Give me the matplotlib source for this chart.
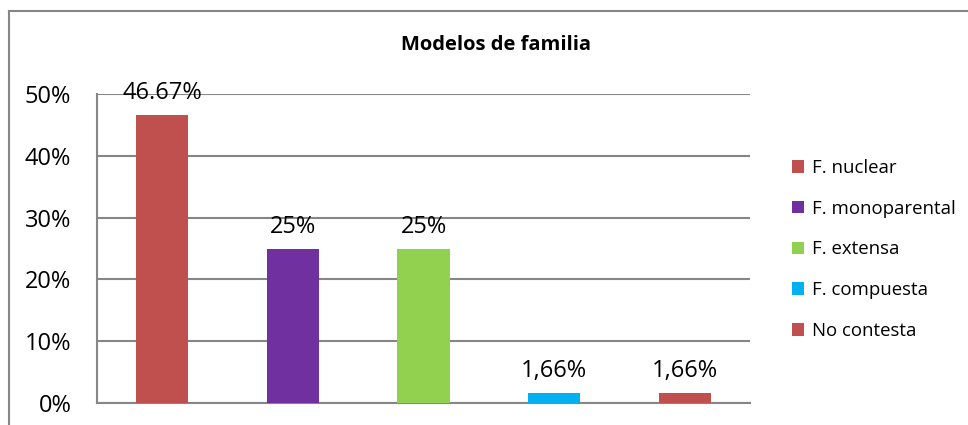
import matplotlib
matplotlib.use("Agg")
import matplotlib.pyplot as plt
from matplotlib.patches import Patch
from matplotlib.lines import Line2D
from matplotlib.ticker import FuncFormatter

categories = ["F. nuclear", "F. monoparental", "F. extensa", "F. compuesta", "No contesta"]
values = [0.4667, 0.25, 0.25, 0.0166, 0.0166]
value_labels = ["46.67%", "25%", "25%", "1,66%", "1,66%"]
colors = ["#C0504D", "#7030A0", "#92D050", "#00B0F0", "#C0504D"]
yticks = [0, 0.1, 0.2, 0.3, 0.4, 0.5]

plt.rcParams['font.family'] = ['Open Sans', 'DejaVu Sans']

W, H = 968, 425
fig = plt.figure(figsize=(W / 100, H / 100), dpi=100)
ax = fig.add_axes([97 / W, 1 - 403 / H, (750 - 97) / W, (403 - 94) / H])

grid_c = "#868686"
x = list(range(len(categories)))
ax.bar(x, values, width=0.4, color=colors, zorder=3)
ax.set_xlim(-0.5, len(categories) - 0.5)
ax.set_ylim(0, 0.5)
ax.set_yticks(yticks)
ax.yaxis.set_major_formatter(FuncFormatter(lambda v, p: f"{v*100:.0f}%"))
ax.set_xticks([])
ax.tick_params(axis='y', length=0, pad=18.5, labelsize=17)
ax.grid(axis='y', color=grid_c, linewidth=1.5, zorder=0)
for s in ["top", "right"]:
    ax.spines[s].set_visible(False)
for s in ["left", "bottom"]:
    ax.spines[s].set_color(grid_c)
    ax.spines[s].set_linewidth(1.5)

for xi, v, lab in zip(x, values, value_labels):
    ax.annotate(lab, (xi, v), xytext=(0, 11), textcoords="offset points",
                ha="center", va="baseline", fontsize=17, color="black", zorder=4)

fig.text(496 / W, 1 - 45 / H, "Modelos de familia", ha="center", va="center",
         fontsize=14.5, fontweight="bold")

handles = [Patch(facecolor=c, edgecolor="none") for c in colors]
leg = fig.legend(handles, categories, loc="upper left",
                 bbox_to_anchor=(779 / W, 1 - 146 / H), frameon=False,
                 fontsize=13.4, handlelength=0.65, handleheight=0.65,
                 handletextpad=0.4, labelspacing=1.22, borderpad=0.2)

fig.add_artist(Line2D([9 / W, 1.0], [1 - 11 / H, 1 - 11 / H], color=grid_c, linewidth=1.5))
fig.add_artist(Line2D([9 / W, 9 / W], [0.0, 1 - 11 / H], color=grid_c, linewidth=1.5))

fig.savefig("out.png", dpi=100)
